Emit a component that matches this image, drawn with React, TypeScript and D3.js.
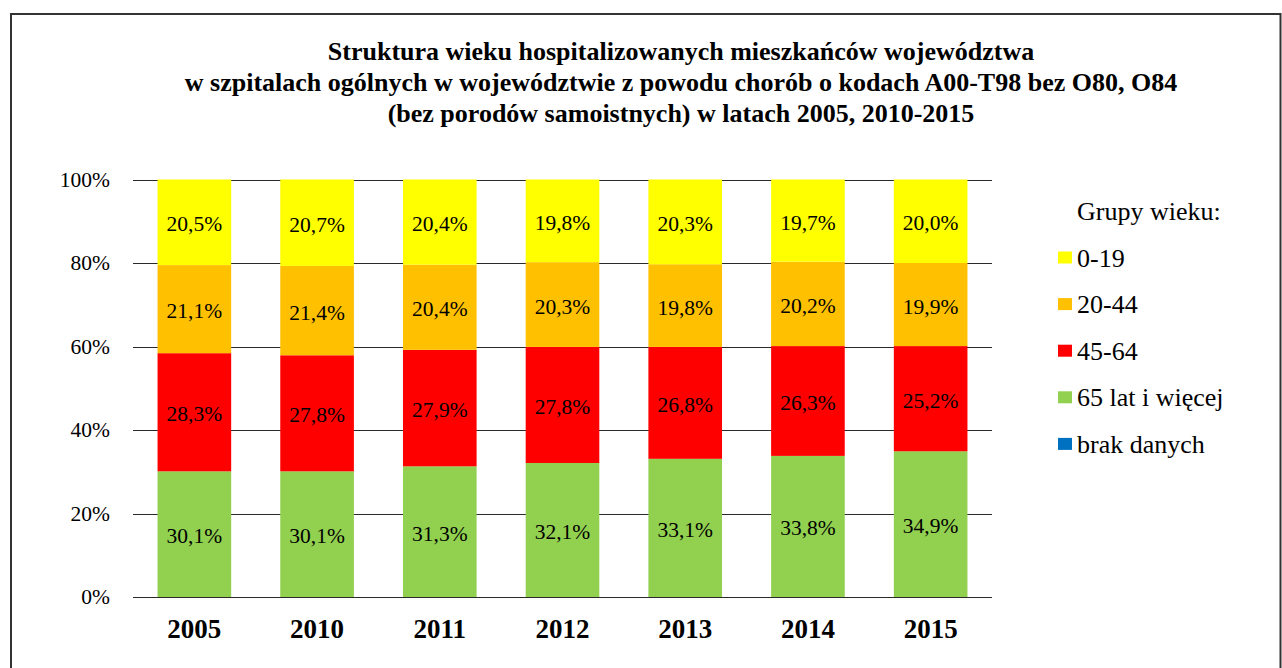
import React from 'react';
import * as d3 from 'd3';

const years = ['2005', '2010', '2011', '2012', '2013', '2014', '2015'];
const groups = ['65 lat i więcej', '45-64', '20-44', '0-19', 'brak danych'];
const legendOrder = ['0-19', '20-44', '45-64', '65 lat i więcej', 'brak danych'];
const colors = ['#92D050', '#FF0000', '#FFC000', '#FFFF00', '#0070C0'];

// values in percent
const age65plus = [30.1, 30.1, 31.3, 32.1, 33.1, 33.8, 34.9];
const age45to64 = [28.3, 27.8, 27.9, 27.8, 26.8, 26.3, 25.2];
const age20to44 = [21.1, 21.4, 20.4, 20.3, 19.8, 20.2, 19.9];
const age0to19 = [20.5, 20.7, 20.4, 19.8, 20.3, 19.7, 20.0];
const noData = [0, 0, 0, 0, 0, 0, 0];

const yTicks = [0, 20, 40, 60, 80, 100];
const titleLines = [
  'Struktura wieku hospitalizowanych mieszkańców województwa',
  'w szpitalach ogólnych w województwie z powodu chorób o kodach A00-T98 bez O80, O84',
  '(bez porodów samoistnych) w latach 2005, 2010-2015',
];

const W = 1282;
const H = 668;
const serif = '"Liberation Serif", "Times New Roman", serif';

const App = () => {
  const series = [age65plus, age45to64, age20to44, age0to19, noData];
  const rows = years.map((y, i) => {
    const r: any = { year: y };
    groups.forEach((g, k) => { r[g] = series[k][i]; });
    return r;
  });
  const stacked = d3.stack().keys(groups)(rows);

  const x = d3.scaleBand().domain(years).range([133, 992]).paddingInner(0.4).paddingOuter(0.2);
  const y = d3.scaleLinear().domain([0, 100]).range([597, 179.5]);
  const color = d3.scaleOrdinal<string, string>().domain(groups).range(colors);
  const fmt = (v: number) => d3.format('.1f')(v).replace('.', ',') + '%';

  return (
    <svg width={W} height={H} style={{ position: 'fixed', left: 0, top: 0, background: '#fff' }}>
      <rect x={0} y={0} width={W} height={H} fill="#fff" />
      <path d={`M11,${H + 5} V14 H${W - 1.5} V${H + 5}`} fill="none" stroke="#333" strokeWidth={2} />

      {titleLines.map((t, i) => (
        <text key={i} x={681} y={59.5 + i * 31} textAnchor="middle" fontFamily={serif}
          fontWeight="bold" fontSize={26} fill="#000">{t}</text>
      ))}

      {yTicks.map(t => (
        <g key={t}>
          <line x1={133} x2={992} y1={Math.round(y(t)) + 0.5} y2={Math.round(y(t)) + 0.5} stroke="#2a2a2a" strokeWidth={1} />
          <text x={110} y={y(t) + 7} textAnchor="end" fontFamily={serif} fontSize={21.5} fill="#000">{t}%</text>
        </g>
      ))}

      {stacked.map((s, k) => (
        <g key={groups[k]}>
          {s.map((d, i) => {
            const h = y(d[0]) - y(d[1]);
            if (h <= 0) return null;
            return (
              <rect key={i} x={x(years[i])} y={y(d[1])} width={x.bandwidth()} height={h} fill={color(groups[k])} />
            );
          })}
        </g>
      ))}

      {stacked.map((s, k) => (
        <g key={'l' + groups[k]}>
          {s.map((d, i) => {
            const v = d[1] - d[0];
            if (v <= 0) return null;
            return (
              <text key={i} x={(x(years[i]) as number) + x.bandwidth() / 2} y={(y(d[0]) + y(d[1])) / 2 + 9}
                textAnchor="middle" fontFamily={serif} fontSize={21.5} fill="#000">{fmt(v)}</text>
            );
          })}
        </g>
      ))}

      {years.map(yr => (
        <text key={yr} x={(x(yr) as number) + x.bandwidth() / 2} y={638} textAnchor="middle"
          fontFamily={serif} fontWeight="bold" fontSize={27} fill="#000">{yr}</text>
      ))}

      <text x={1077} y={220} fontFamily={serif} fontSize={26} fill="#000">Grupy wieku:</text>
      {legendOrder.map((g, i) => (
        <g key={g} transform={`translate(1058, ${257.5 + i * 46.6})`}>
          <rect x={0} y={-6} width={14} height={12} fill={color(g)} />
          <text x={19} y={9} fontFamily={serif} fontSize={26} fill="#000">{g}</text>
        </g>
      ))}
    </svg>
  );
};

export default App;
